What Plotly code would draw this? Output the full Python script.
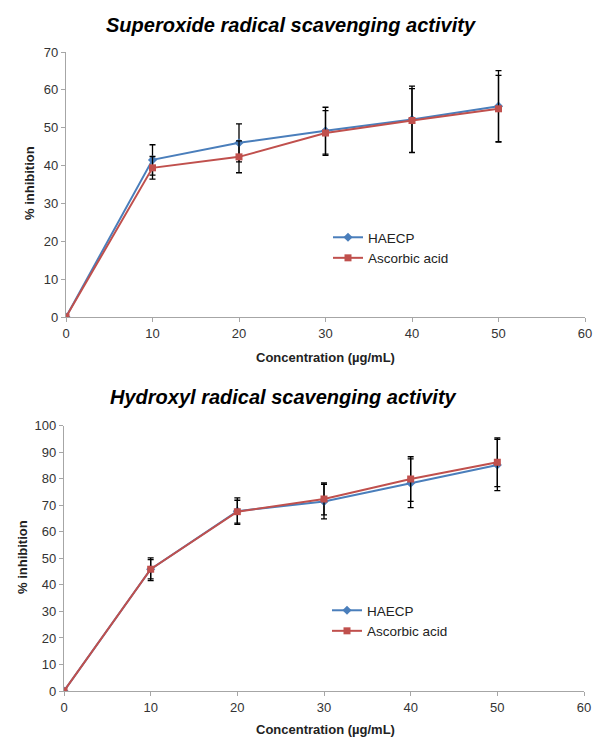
import plotly.graph_objects as go

conc = [0, 10, 20, 30, 40, 50]

# Superoxide radical scavenging activity
sup_haecp = [0, 41.5, 46.0, 49.2, 52.2, 55.7]
sup_haecp_err = [0, 4.0, 5.0, 6.2, 8.8, 9.4]
sup_asc = [0, 39.4, 42.3, 48.6, 51.9, 55.0]
sup_asc_err = [0, 3.0, 4.2, 5.9, 8.4, 8.8]

# Hydroxyl radical scavenging activity
hyd_haecp = [0, 45.9, 67.8, 71.4, 78.3, 85.2]
hyd_haecp_err = [0, 4.3, 5.0, 6.5, 9.2, 9.7]
hyd_asc = [0, 45.9, 67.6, 72.4, 79.9, 86.2]
hyd_asc_err = [0, 3.6, 4.3, 6.0, 8.4, 9.2]

x_ticks = [0, 10, 20, 30, 40, 50, 60]
sup_y_ticks = [0, 10, 20, 30, 40, 50, 60, 70]
hyd_y_ticks = [0, 10, 20, 30, 40, 50, 60, 70, 80, 90, 100]

BLUE = "#4A7EBB"
RED = "#C0504D"
W, H = 593, 739
FONT = "Liberation Sans, Arial, sans-serif"

fig = go.Figure()

def add_pair(xa, ya, yh, eh, ya2, ea, legend):
    fig.add_trace(go.Scatter(
        x=conc, y=yh, name="HAECP", mode="lines+markers",
        line=dict(color=BLUE, width=2),
        marker=dict(symbol="diamond", size=7, color=BLUE),
        error_y=dict(type="data", array=eh, color="black", thickness=1.3, width=3),
        xaxis=xa, yaxis=ya, legend=legend))
    fig.add_trace(go.Scatter(
        x=conc, y=ya2, name="Ascorbic acid", mode="lines+markers",
        line=dict(color=RED, width=2),
        marker=dict(symbol="square", size=7, color=RED),
        error_y=dict(type="data", array=ea, color="black", thickness=1.3, width=3),
        xaxis=xa, yaxis=ya, legend=legend))

add_pair("x", "y", sup_haecp, sup_haecp_err, sup_asc, sup_asc_err, "legend")
add_pair("x2", "y2", hyd_haecp, hyd_haecp_err, hyd_asc, hyd_asc_err, "legend2")

def px_x(p):
    return p / W

def px_y(p):
    return 1 - p / H

axis_common = dict(
    showgrid=False, zeroline=False, showline=True, linecolor="#A6A6A6", linewidth=1.2,
    ticks="outside", ticklen=4, tickcolor="#A6A6A6", automargin=False,
    ticklabeloverflow="allow",
    tickfont=dict(family=FONT, size=13, color="#333333"),
)

fig.update_layout(
    template="none",
    width=W, height=H,
    margin=dict(l=0, r=0, t=0, b=0, autoexpand=False),
    paper_bgcolor="white", plot_bgcolor="white",
    font=dict(family=FONT),
    xaxis=dict(domain=[px_x(66), px_x(585)], range=[0, 60], tickvals=x_ticks,
               anchor="y", **axis_common),
    yaxis=dict(domain=[px_y(317), px_y(52)], range=[0, 70], tickvals=sup_y_ticks,
               anchor="x", **axis_common),
    xaxis2=dict(domain=[px_x(64), px_x(584)], range=[0, 60], tickvals=x_ticks,
                anchor="y2", **axis_common),
    yaxis2=dict(domain=[px_y(691), px_y(425.7)], range=[0, 100], tickvals=hyd_y_ticks,
                anchor="x2", **axis_common),
    legend=dict(x=px_x(328), y=px_y(222), xanchor="left", yanchor="top",
                bgcolor="rgba(0,0,0,0)", font=dict(family=FONT, size=13.5, color="#222222"),
                tracegroupgap=0, itemwidth=30),
    legend2=dict(x=px_x(327), y=px_y(595), xanchor="left", yanchor="top",
                 bgcolor="rgba(0,0,0,0)", font=dict(family=FONT, size=13.5, color="#222222"),
                 tracegroupgap=0, itemwidth=30),
    annotations=[
        dict(text="<b><i>Superoxide radical scavenging activity</i></b>", x=px_x(291), y=px_y(25),
             xref="paper", yref="paper", showarrow=False, xanchor="center", yanchor="middle",
             font=dict(family=FONT, size=20, color="black")),
        dict(text="<b><i>Hydroxyl radical scavenging activity</i></b>", x=px_x(283), y=px_y(397),
             xref="paper", yref="paper", showarrow=False, xanchor="center", yanchor="middle",
             font=dict(family=FONT, size=20, color="black")),
        dict(text="<b>Concentration (µg/mL)</b>", x=px_x(325), y=px_y(357),
             xref="paper", yref="paper", showarrow=False, xanchor="center", yanchor="middle",
             font=dict(family=FONT, size=13, color="#222222")),
        dict(text="<b>Concentration (µg/mL)</b>", x=px_x(325), y=px_y(729),
             xref="paper", yref="paper", showarrow=False, xanchor="center", yanchor="middle",
             font=dict(family=FONT, size=13, color="#222222")),
        dict(text="<b>% inhibition</b>", x=px_x(30), y=px_y(183), textangle=-90,
             xref="paper", yref="paper", showarrow=False, xanchor="center", yanchor="middle",
             font=dict(family=FONT, size=13, color="#222222")),
        dict(text="<b>% inhibition</b>", x=px_x(22), y=px_y(557), textangle=-90,
             xref="paper", yref="paper", showarrow=False, xanchor="center", yanchor="middle",
             font=dict(family=FONT, size=13, color="#222222")),
    ],
)

fig.write_html("out.html", config={"displayModeBar": False},
               post_script="document.body.style.margin='0';document.body.style.overflow='hidden';")
